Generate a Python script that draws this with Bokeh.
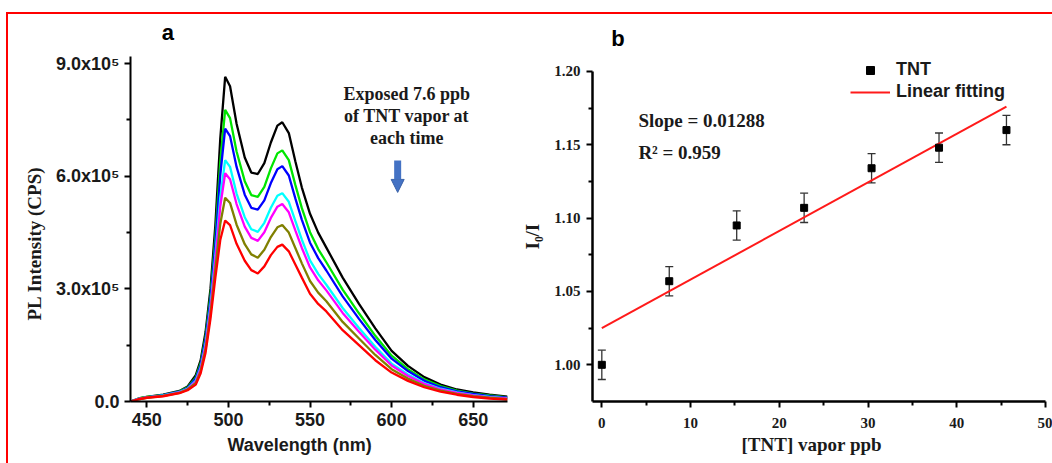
from bokeh.plotting import figure
from bokeh.layouts import row, column
from bokeh.models import (Range1d, FixedTicker, Label, Arrow, NormalHead, Whisker,
                          ColumnDataSource, Legend, LegendItem, Title, Div, Spacer)
from bokeh.embed import file_html
from bokeh.resources import INLINE

# ---------------- Panel a data (PL spectra, intensity in units of 1e5 CPS) -------------
wavelength = [440, 445, 450, 460, 470, 475, 480, 483, 486, 489, 492, 495, 498, 501, 505,
              510, 514, 518, 522, 526, 530, 533, 537, 541, 545, 550, 555, 560, 570, 580,
              590, 600, 610, 620, 630, 640, 650, 660, 671]
pl_0 = [0.00, 0.08, 0.12, 0.18, 0.28, 0.40, 0.70, 1.10, 1.85, 3.00, 4.70, 7.00, 8.65, 8.40, 7.40,
        6.50, 6.10, 6.06, 6.35, 6.90, 7.35, 7.44, 7.15, 6.40, 5.70, 5.00, 4.50, 4.10, 3.30, 2.60,
        1.95, 1.35, 0.95, 0.65, 0.45, 0.32, 0.24, 0.18, 0.13]
pl_1 = [0.00, 0.08, 0.12, 0.17, 0.27, 0.38, 0.64, 1.02, 1.72, 2.82, 4.38, 6.38, 7.77, 7.55, 6.66,
        5.87, 5.50, 5.45, 5.72, 6.21, 6.61, 6.69, 6.43, 5.77, 5.15, 4.51, 4.06, 3.71, 2.98, 2.35,
        1.75, 1.22, 0.86, 0.59, 0.41, 0.29, 0.21, 0.16, 0.11]
pl_2 = [0.00, 0.07, 0.11, 0.17, 0.26, 0.36, 0.61, 0.97, 1.65, 2.71, 4.20, 6.03, 7.27, 7.07, 6.25,
        5.51, 5.16, 5.11, 5.36, 5.82, 6.19, 6.27, 6.02, 5.41, 4.84, 4.23, 3.82, 3.49, 2.80, 2.20,
        1.64, 1.14, 0.81, 0.55, 0.38, 0.27, 0.20, 0.14, 0.10]
pl_3 = [0.00, 0.07, 0.11, 0.16, 0.25, 0.34, 0.56, 0.90, 1.53, 2.54, 3.89, 5.43, 6.43, 6.25, 5.54,
        4.91, 4.59, 4.52, 4.76, 5.16, 5.48, 5.55, 5.32, 4.81, 4.31, 3.76, 3.40, 3.11, 2.49, 1.96,
        1.46, 1.01, 0.72, 0.49, 0.34, 0.24, 0.17, 0.12, 0.08]
pl_4 = [0.00, 0.07, 0.11, 0.15, 0.24, 0.33, 0.53, 0.87, 1.48, 2.46, 3.76, 5.19, 6.08, 5.92, 5.26,
        4.66, 4.36, 4.28, 4.51, 4.89, 5.19, 5.26, 5.04, 4.56, 4.09, 3.57, 3.23, 2.96, 2.36, 1.86,
        1.38, 0.96, 0.68, 0.47, 0.32, 0.23, 0.16, 0.11, 0.08]
pl_5 = [0.00, 0.06, 0.10, 0.15, 0.23, 0.32, 0.49, 0.81, 1.39, 2.33, 3.52, 4.73, 5.43, 5.29, 4.71,
        4.19, 3.92, 3.83, 4.04, 4.38, 4.64, 4.70, 4.50, 4.09, 3.68, 3.21, 2.90, 2.67, 2.12, 1.68,
        1.24, 0.86, 0.61, 0.42, 0.29, 0.20, 0.14, 0.10, 0.06]
pl_6 = [0.00, 0.06, 0.10, 0.14, 0.22, 0.30, 0.45, 0.75, 1.30, 2.20, 3.30, 4.30, 4.82, 4.70, 4.20,
        3.75, 3.50, 3.41, 3.60, 3.90, 4.12, 4.18, 4.00, 3.65, 3.30, 2.87, 2.60, 2.40, 1.90, 1.50,
        1.10, 0.77, 0.55, 0.38, 0.26, 0.18, 0.12, 0.08, 0.05]
spectra = [pl_0, pl_1, pl_2, pl_3, pl_4, pl_5, pl_6]
spectra_colors = ["#000000", "#00e600", "#0000ff", "#00ffff", "#ff00ff", "#808000", "#ff0000"]

a_yticks = [0, 300000, 600000, 900000]
a_ytick_labels = ["0.0", "3.0x10\u2075", "6.0x10\u2075", "9.0x10\u2075"]
a_xticks = [450, 500, 550, 600, 650]

# ---------------- Panel b data ----------------
tnt_ppb = [0.0, 7.6, 15.2, 22.8, 30.4, 38.0, 45.6]
i0_over_i = [1.000, 1.057, 1.095, 1.107, 1.134, 1.148, 1.160]
i0_err = [0.010, 0.010, 0.010, 0.010, 0.010, 0.010, 0.010]
fit_x = [0.0, 45.6]
fit_y = [1.025, 1.176]

b_yticks = [1.00, 1.05, 1.10, 1.15, 1.20]
b_ytick_labels = ["1.00", "1.05", "1.10", "1.15", "1.20"]
b_xticks = [0, 10, 20, 30, 40, 50]

SANS = "Liberation Sans"
SERIF = "Liberation Serif"
TXT = "#1a1a1a"

# ================= Panel a =================
pa = figure(width=500, height=449, output_backend="svg", toolbar_location=None, title=None,
            x_range=Range1d(440, 671), y_range=Range1d(0, 1015000),
            min_border_left=122, min_border_right=1, min_border_top=6, min_border_bottom=62)
pa.outline_line_color = None
pa.grid.grid_line_color = None

for ys, c in zip(spectra, spectra_colors):
    pa.line(wavelength, [v * 1e5 for v in ys], line_color=c, line_width=2.3)

for ax in (pa.xaxis[0], pa.yaxis[0]):
    ax.axis_line_width = 2
    ax.axis_line_color = "black"
    ax.major_tick_line_width = 2
    ax.minor_tick_line_width = 2
    ax.major_tick_out = 6
    ax.major_tick_in = 0
    ax.minor_tick_out = 4
    ax.minor_tick_in = 0
    ax.major_label_text_font = SANS
    ax.major_label_text_font_style = "bold"
    ax.major_label_text_font_size = "18px"
    ax.major_label_text_color = TXT

pa.yaxis.bounds = (0, 920000)
pa.xaxis.ticker = FixedTicker(ticks=a_xticks, minor_ticks=[475, 525, 575, 625])
pa.yaxis.ticker = FixedTicker(ticks=a_yticks, minor_ticks=[150000, 450000, 750000])
pa.yaxis.major_label_overrides = {t: s for t, s in zip(a_yticks, a_ytick_labels)}
pa.xaxis.major_label_standoff = 5
pa.yaxis.major_label_standoff = 5

pa.add_layout(Title(text="PL Intensity (CPS)", align="left", offset=81, standoff=16,
                    text_font=SERIF, text_font_style="bold", text_font_size="19px",
                    text_color=TXT), "left")
pa.add_layout(Title(text="Wavelength (nm)", align="left", offset=97, standoff=8,
                    text_font=SANS, text_font_style="bold", text_font_size="18px",
                    text_color=TXT), "below")
pa.add_layout(Label(x=459.2, y=983000, text="a",
                    text_font=SANS, text_font_style="bold", text_font_size="22px",
                    text_align="left", text_baseline="alphabetic", text_color="black"))
for txt, yy in zip(["Exposed 7.6 ppb", "of TNT vapor at", "each time"],
                   [818000, 761000, 701000]):
    pa.add_layout(Label(x=609.3, y=yy, text=txt,
                        text_font=SERIF, text_font_style="bold", text_font_size="18px",
                        text_align="center", text_baseline="middle", text_color=TXT))
pa.add_layout(Arrow(x_start=603.7, y_start=642000, x_end=603.7, y_end=557000,
                    line_color="#4472c4", line_width=7,
                    end=NormalHead(size=13, fill_color="#4472c4", line_color="#3a62a8",
                                   line_width=1)))

# ================= Panel b =================
pb = figure(width=544, height=449, output_backend="svg", toolbar_location=None, title=None,
            x_range=Range1d(-1.05, 50), y_range=Range1d(0.975, 1.2347),
            min_border_left=84, min_border_right=7, min_border_top=6, min_border_bottom=58)
pb.outline_line_color = None
pb.grid.grid_line_color = None

src = ColumnDataSource(dict(x=tnt_ppb, y=i0_over_i,
                            upper=[v + e for v, e in zip(i0_over_i, i0_err)],
                            lower=[v - e for v, e in zip(i0_over_i, i0_err)]))
fit_r = pb.line(fit_x, fit_y, line_color="#ff1a1a", line_width=2)
wk = Whisker(source=src, base="x", upper="upper", lower="lower",
             line_color="#333333", line_width=1.3)
for hd in (wk.upper_head, wk.lower_head):
    hd.size = 8
    hd.line_color = "#333333"
    hd.line_width = 1.3
pb.add_layout(wk)
pts = pb.scatter("x", "y", source=src, marker="square", size=7, fill_color="black",
                 line_color="black")

for ax in (pb.xaxis[0], pb.yaxis[0]):
    ax.axis_line_width = 2.5
    ax.axis_line_color = "black"
    ax.major_tick_line_width = 2
    ax.minor_tick_line_width = 2
    ax.major_tick_out = 6
    ax.major_tick_in = 0
    ax.minor_tick_out = 4
    ax.minor_tick_in = 0
    ax.major_label_text_font = SERIF
    ax.major_label_text_font_style = "bold"
    ax.major_label_text_font_size = "15px"
    ax.major_label_text_color = TXT

pb.yaxis.bounds = (0.975, 1.20)
pb.xaxis.ticker = FixedTicker(ticks=b_xticks, minor_ticks=[5, 15, 25, 35, 45])
pb.yaxis.ticker = FixedTicker(ticks=b_yticks, minor_ticks=[1.025, 1.075, 1.125, 1.175])
pb.yaxis.major_label_overrides = {t: s for t, s in zip(b_yticks, b_ytick_labels)}
pb.xaxis.major_label_standoff = 10
pb.yaxis.major_label_standoff = 6

pb.add_layout(Title(text="I\u2080/I", align="left", offset=152, standoff=18,
                    text_font=SERIF, text_font_style="bold", text_font_size="19px",
                    text_color=TXT), "left")
pb.add_layout(Title(text="[TNT] vapor ppb", align="left", offset=149, standoff=2,
                    text_font=SERIF, text_font_style="bold", text_font_size="19px",
                    text_color=TXT), "below")
pb.add_layout(Label(x=1.05, y=1.2226, text="b",
                    text_font=SANS, text_font_style="bold", text_font_size="22px",
                    text_align="left", text_baseline="alphabetic", text_color="black"))
pb.add_layout(Label(x=4.12, y=1.1662, text="Slope = 0.01288",
                    text_font=SERIF, text_font_style="bold", text_font_size="19px",
                    text_align="left", text_baseline="alphabetic", text_color=TXT))
pb.add_layout(Label(x=4.12, y=1.1444, text="R\u00b2 = 0.959",
                    text_font=SERIF, text_font_style="bold", text_font_size="19px",
                    text_align="left", text_baseline="alphabetic", text_color=TXT))

legend = Legend(items=[LegendItem(label="TNT", renderers=[pts]),
                       LegendItem(label="Linear fitting", renderers=[fit_r])],
                location=(258, 299), orientation="vertical",
                label_text_font=SANS, label_text_font_style="bold",
                label_text_font_size="18px", label_text_color=TXT,
                glyph_width=40, glyph_height=20, label_standoff=6, spacing=1,
                padding=0, margin=0, border_line_color=None, background_fill_alpha=0)
pb.add_layout(legend)

# red frame lines (top and left), as in the reference
top_line = Div(text="", width=1046, height=2, margin=0,
               styles={"background-color": "#ff0000"})
left_line = Div(text="", width=2, height=449, margin=0,
                styles={"background-color": "#ff0000"})
layout = column(Spacer(width=1052, height=12, margin=0),
                row(Spacer(width=6, height=2, margin=0), top_line),
                row(Spacer(width=6, height=449, margin=0), left_line, pa, pb))

open("out.html", "w").write(file_html(layout, INLINE))
